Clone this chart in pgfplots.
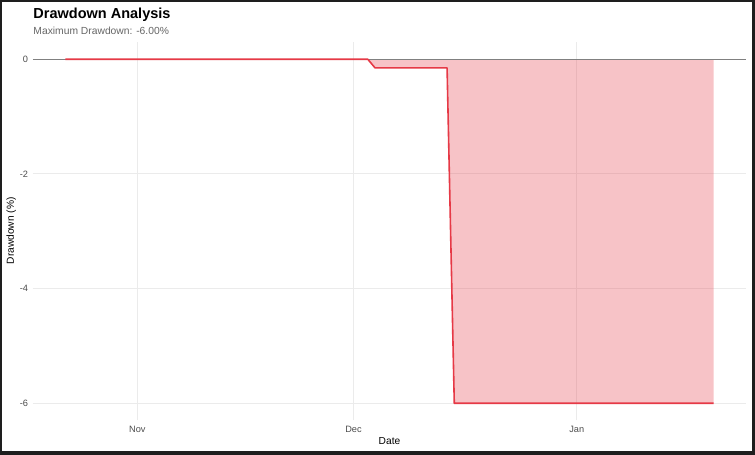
\documentclass[border=0pt]{standalone}
\usepackage{pgfplots}
\pgfplotsset{compat=1.18}
\usepackage{fontspec}
\setmainfont{Liberation Sans}
\definecolor{ddred}{HTML}{E63946}
\definecolor{gridc}{HTML}{EBEBEB}
\definecolor{ticklab}{HTML}{4D4D4D}
\definecolor{subt}{HTML}{666666}
\definecolor{framec}{HTML}{1E1E1E}
\definecolor{zeroc}{HTML}{808080}
\begin{document}
\begin{tikzpicture}[x=1bp,y=1bp]
\path[use as bounding box] (0,0) rectangle (755,455);
\fill[framec] (0,0) rectangle (755,455);
\fill[white] (2,3.5) rectangle (752,453);
\begin{axis}[
  at={(32.9bp,34.5bp)}, anchor=south west,
  scale only axis, width=713.1bp, height=378.4bp,
  xmin=-14.5, xmax=84.5, ymin=-6.3, ymax=0.3,
  axis line style={draw=none},
  major tick length=0pt,
  xtick={0,30,61}, xticklabels={Nov,Dec,Jan},
  ytick={-6,-4,-2,0}, yticklabels={-6,-4,-2,0},
  grid=major, major grid style={gridc, line width=1bp},
  tick label style={font=\fontsize{9.2bp}{11bp}\selectfont, text=ticklab},
  xticklabel style={anchor=base, yshift=-11.8bp},
  yticklabel style={anchor=east, inner sep=0pt, xshift=-4.6bp},
]
\addplot[draw=none, fill=ddred, fill opacity=0.3] coordinates {
  (-10,0) (32,0) (33,-0.15) (43,-0.15) (44,-6) (80,-6)
} \closedcycle;
\addplot[zeroc, line width=1bp] coordinates {(-14.5,0) (84.5,0)};
\addplot[ddred, line width=1.6bp, line join=round] coordinates {
  (-10,0) (32,0) (33,-0.15) (43,-0.15) (44,-6) (80,-6)
};
\end{axis}
\node[anchor=base west, inner sep=0, font=\fontsize{14.5bp}{17bp}\selectfont\bfseries] at (33.3,436.7) {Drawdown Analysis};
\node[anchor=base west, inner sep=0, text=subt, font=\fontsize{10.3bp}{12bp}\selectfont] at (33.3,420.7) {Maximum Drawdown: -6.00\%};
\node[anchor=base, inner sep=0, font=\fontsize{10.2bp}{12bp}\selectfont] at (389.5,10.7) {Date};
\node[anchor=base, rotate=90, inner sep=0, font=\fontsize{10.2bp}{12bp}\selectfont] at (13.8,224.1) {Drawdown (\%)};
\end{tikzpicture}
\end{document}
